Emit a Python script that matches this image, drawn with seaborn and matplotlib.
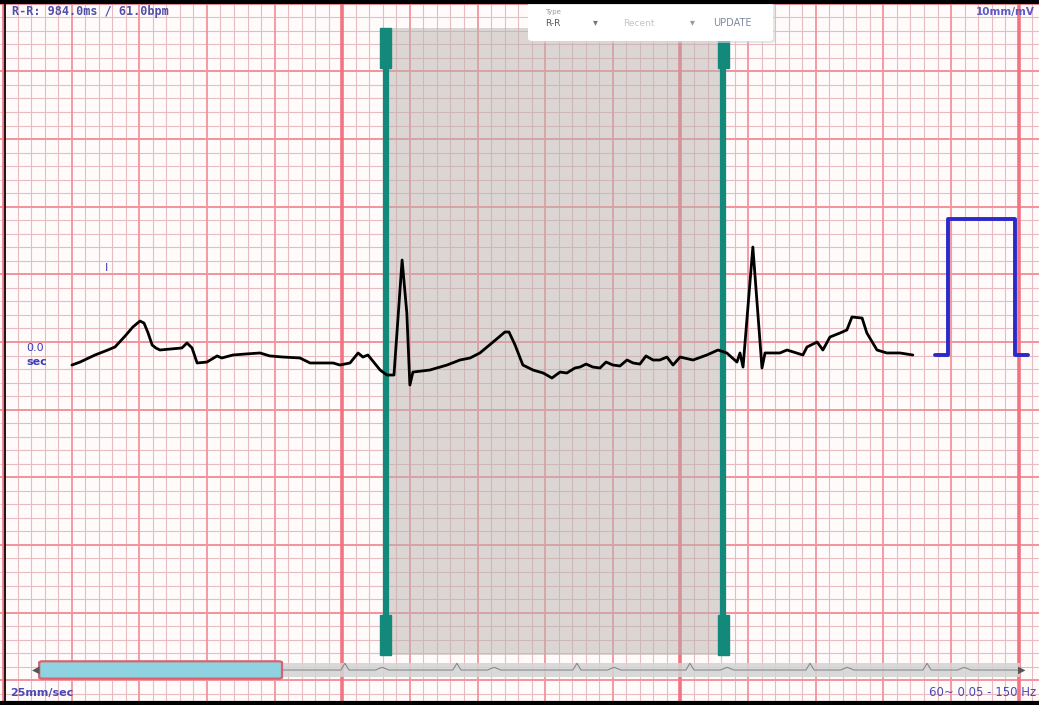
import numpy as np
import pandas as pd
import seaborn as sns
import matplotlib.pyplot as plt
from matplotlib.patches import Rectangle, FancyBboxPatch

# Lead I trace (time in s, amplitude in mV), 25 mm/s, 10 mm/mV
ecg_t = [0.201, 0.225, 0.269, 0.307, 0.328, 0.358, 0.381, 0.402, 0.414, 0.426,
         0.438, 0.449, 0.461, 0.491, 0.526, 0.541, 0.556, 0.571, 0.600, 0.630,
         0.644, 0.677, 0.712, 0.757, 0.786, 0.825, 0.875, 0.905, 0.973, 0.993,
         1.023, 1.047, 1.061, 1.076, 1.112, 1.132, 1.153, 1.177, 1.191, 1.200,
         1.209, 1.259, 1.310, 1.348, 1.378, 1.407, 1.446, 1.481, 1.493, 1.511,
         1.534, 1.564, 1.594, 1.620, 1.644, 1.664, 1.688, 1.703, 1.721, 1.741,
         1.762, 1.780, 1.800, 1.821, 1.842, 1.860, 1.880, 1.898, 1.919, 1.939,
         1.960, 1.978, 1.999, 2.037, 2.078, 2.111, 2.137, 2.167, 2.176, 2.185,
         2.214, 2.241, 2.250, 2.294, 2.315, 2.362, 2.374, 2.404, 2.421, 2.442,
         2.472, 2.492, 2.507, 2.537, 2.551, 2.581, 2.610, 2.649, 2.687]
ecg_mv = [-0.170, -0.148, -0.096, -0.059, -0.037, 0.044, 0.111, 0.155, 0.140, 0.067,
          -0.022, -0.044, -0.059, -0.052, -0.044, -0.007, -0.044, -0.155, -0.148, -0.103,
          -0.118, -0.096, -0.089, -0.081, -0.103, -0.111, -0.118, -0.155, -0.155, -0.170,
          -0.155, -0.081, -0.111, -0.096, -0.207, -0.244, -0.244, 0.606, 0.214, -0.318,
          -0.222, -0.207, -0.170, -0.133, -0.118, -0.081, 0.000, 0.074, 0.074, -0.022,
          -0.170, -0.207, -0.229, -0.266, -0.222, -0.229, -0.192, -0.185, -0.163, -0.185,
          -0.192, -0.148, -0.170, -0.177, -0.133, -0.155, -0.163, -0.103, -0.133, -0.133,
          -0.111, -0.170, -0.111, -0.133, -0.096, -0.059, -0.081, -0.148, -0.081, -0.185,
          0.702, -0.192, -0.081, -0.081, -0.059, -0.096, -0.037, 0.000, -0.059, 0.037,
          0.067, 0.089, 0.185, 0.177, 0.067, -0.059, -0.081, -0.081, -0.096]

# 1 mV calibration pulse
cal_t = [2.752, 2.791, 2.791, 2.989, 2.989, 3.027]
cal_mv = [-0.096, -0.096, 0.909, 0.909, -0.096, -0.096]

# selected R-R window (s)
sel_start, sel_end = 1.128, 2.126
# R peaks seen in the overview strip (s)
overview_peaks = [0.692, 1.008, 1.339, 1.694, 2.028, 2.383, 2.729]

rr_text = "R-R: 984.0ms / 61.0bpm"

sns.set_style("white")
fig = plt.figure(figsize=(10.39, 7.05), dpi=100)
ax = fig.add_axes([0, 0, 1, 1])
ax.set_facecolor("#fffbfb")
xmin, xmax = -0.0118, 3.060
ymin, ymax = -2.683, 2.528
ax.set_xlim(xmin, xmax)
ax.set_ylim(ymin, ymax)
ax.set_xticks([])
ax.set_yticks([])
for s in ax.spines.values():
    s.set_visible(False)

# ECG paper grid: 1 mm, 5 mm and 25 mm lines
xi = np.arange(0, 77)
xs = xi * 0.04
yi = np.arange(-26, 26)
ys = yi * 0.1
minor_c, major_c, super_c = "#e6bcc1", "#f4939c", "#f27482"
ax.vlines(xs[xi % 5 != 0], ymin, ymax, color=minor_c, lw=0.8, zorder=1)
ax.hlines(ys[yi % 5 != 0], xmin, xmax, color=minor_c, lw=0.8, zorder=1)
ax.vlines(xs[(xi % 5 == 0) & (xi % 25 != 0)], ymin, ymax, color=major_c, lw=1.3, zorder=1)
ax.hlines(ys[yi % 5 == 0], xmin, xmax, color=major_c, lw=1.4, zorder=1)
ax.vlines(xs[xi % 25 == 0], ymin, ymax, color=super_c, lw=2.6, zorder=1)

# selection window
teal = "#12897a"
sel_top, sel_bot = 2.321, -2.313
ax.add_patch(Rectangle((sel_start, sel_bot), sel_end - sel_start, sel_top - sel_bot,
                       facecolor="#b9b2ae", alpha=0.5, lw=0, zorder=2))
hw, hh = 0.0325, 0.296
for xpos in (sel_start, sel_end):
    ax.plot([xpos, xpos], [sel_bot, sel_top], color=teal, lw=4.5, zorder=3,
            solid_capstyle="butt")
    ax.add_patch(Rectangle((xpos - hw / 2, sel_top - hh), hw, hh, color=teal, zorder=3))
    ax.add_patch(Rectangle((xpos - hw / 2, sel_bot), hw, hh, color=teal, zorder=3))

# traces
ecg = pd.DataFrame({"t": ecg_t, "mv": ecg_mv})
cal = pd.DataFrame({"t": cal_t, "mv": cal_mv})
sns.lineplot(data=ecg, x="t", y="mv", sort=False, estimator=None, color="black",
             lw=2.0, ax=ax, zorder=5)
sns.lineplot(data=cal, x="t", y="mv", sort=False, estimator=None, color="#2a2ac8",
             lw=2.8, ax=ax, zorder=5)
ax.set_xlabel("")
ax.set_ylabel("")

# overview scrollbar
track_y0, track_y1 = -2.476, -2.373
ax.add_patch(Rectangle((0.100, track_y0), 3.004 - 0.100, track_y1 - track_y0,
                       facecolor="#d4d4d4", alpha=0.85, lw=0, zorder=6))
mid = (track_y0 + track_y1) / 2
ov_x, ov_y = [0.100], [mid]
for p in overview_peaks:
    ov_x += [p - 0.012, p, p + 0.012, p + 0.09, p + 0.11, p + 0.13]
    ov_y += [mid, mid + 0.05, mid, mid, mid + 0.02, mid]
ov_x.append(3.0)
ov_y.append(mid)
ax.plot(ov_x, ov_y, color="#8a8a8a", lw=0.8, zorder=7)
ax.add_patch(FancyBboxPatch((0.104, -2.488), 0.822 - 0.104, 0.128,
                            boxstyle="round,pad=0,rounding_size=0.01",
                            facecolor="#8ed3df", edgecolor="#d8626f", lw=1.6, zorder=8))
ax.text(0.093, mid, "\u25c0", ha="center", va="center", fontsize=7, color="#555555", zorder=9)
ax.text(3.008, mid, "\u25b6", ha="center", va="center", fontsize=7, color="#555555", zorder=9)

# labels
blue = "#3c3cb4"
def px(x, y):
    return x / 1039, 1 - y / 705

ax.text(*px(12, 12), rr_text, transform=ax.transAxes, ha="left", va="center",
        fontsize=8.5, family="DejaVu Sans Mono", fontweight="bold", color="#5050aa", zorder=10)
ax.text(*px(1035, 12), "10mm/mV", transform=ax.transAxes, ha="right", va="center",
        fontsize=7.5, fontweight="bold", color="#5a5ac8", zorder=10)
ax.text(*px(10, 693), "25mm/sec", transform=ax.transAxes, ha="left", va="center",
        fontsize=8, fontweight="bold", color="#4a4ab8", zorder=10)
ax.text(*px(1036, 693), "60~ 0.05 - 150 Hz", transform=ax.transAxes, ha="right", va="center",
        fontsize=8.5, color="#4a4ab8", zorder=10)
ax.text(*px(26, 348), "0.0", transform=ax.transAxes, ha="left", va="center",
        fontsize=8, color=blue, zorder=10)
ax.text(*px(26, 362), "sec", transform=ax.transAxes, ha="left", va="center",
        fontsize=8, fontweight="bold", color=blue, zorder=10)
ax.text(*px(107, 268), "I", transform=ax.transAxes, ha="center", va="center",
        fontsize=8, color=blue, zorder=10)

# control widget at top
ax.add_patch(FancyBboxPatch(px(530, 43), 245 / 1039, 40 / 705, transform=ax.transAxes,
                            boxstyle="round,pad=0,rounding_size=0.004",
                            facecolor="#d8d8d8", lw=0, alpha=0.6, zorder=10))
ax.add_patch(FancyBboxPatch(px(528, 41), 245 / 1039, 40 / 705, transform=ax.transAxes,
                            boxstyle="round,pad=0,rounding_size=0.004",
                            facecolor="white", lw=0, zorder=11))
ax.text(*px(545, 12), "Type", transform=ax.transAxes, fontsize=5, color="#999999",
        va="center", zorder=12)
ax.text(*px(545, 23), "R-R", transform=ax.transAxes, fontsize=6.5, color="#555555",
        va="center", zorder=12)
ax.text(*px(595, 22), "\u25be", transform=ax.transAxes, fontsize=7, color="#777777",
        ha="center", va="center", zorder=12)
ax.text(*px(623, 24), "Recent", transform=ax.transAxes, fontsize=6.5, color="#c4c4c4",
        va="center", zorder=12)
ax.text(*px(692, 22), "\u25be", transform=ax.transAxes, fontsize=7, color="#999999",
        ha="center", va="center", zorder=12)
ax.text(*px(713, 23), "UPDATE", transform=ax.transAxes, fontsize=7, color="#7f8aa0",
        va="center", zorder=12)

# frame
ax.plot([0, 1], [1 - 1.5 / 705] * 2, transform=ax.transAxes, color="black", lw=3, zorder=13)
ax.plot([0, 1], [1 - 702.5 / 705] * 2, transform=ax.transAxes, color="black", lw=3, zorder=13)
ax.plot([5 / 1039] * 2, [0, 1], transform=ax.transAxes, color="black", lw=1.2, zorder=13)

fig.savefig("out.png", dpi=100)
